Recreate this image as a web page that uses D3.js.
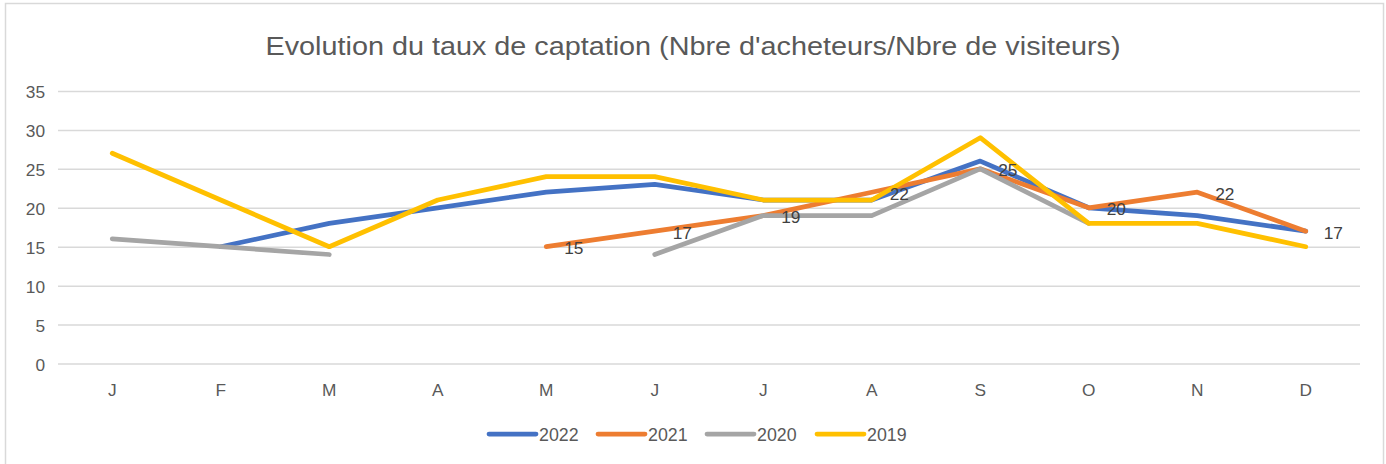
<!DOCTYPE html>
<html>
<head>
<meta charset="utf-8">
<script src="https://cdn.jsdelivr.net/npm/d3@7"></script>
<style>
  html, body { margin: 0; padding: 0; background: #fff; }
  svg { display: block; }
</style>
</head>
<body>
<svg id="chart" width="1386" height="464"></svg>
<script>
const months = ["J", "F", "M", "A", "M", "J", "J", "A", "S", "O", "N", "D"];
const yTicks = [0, 5, 10, 15, 20, 25, 30, 35];
const seriesNames = ["2022", "2021", "2020", "2019"];
const seriesColors = ["#4472C4", "#ED7D31", "#A5A5A5", "#FFC000"];
const v2022 = [null, 15, 18, 20, 22, 23, 21, 21, 26, 20, 19, 17];
const v2021 = [null, null, null, null, 15, 17, 19, 22, 25, 20, 22, 17];
const v2020 = [16, 15, 14, null, null, 14, 19, 19, 25, 18, null, null];
const v2019 = [27, 21, 15, 21, 24, 24, 21, 21, 29, 18, 18, 15];
const labeledSeries = "2021";
const title = "Evolution du taux de captation (Nbre d'acheteurs/Nbre de visiteurs)";

const seriesValues = [v2022, v2021, v2020, v2019];
const series = seriesNames.map((name, i) => ({
  name, color: seriesColors[i],
  values: seriesValues[i].map((v, j) => ({ idx: j, v }))
}));

const svg = d3.select("#chart");
const W = 1386, H = 464;
const font = "'Liberation Sans', Arial, sans-serif";
const textColor = "#595959";
const fs = 17.3;

// chart border
svg.append("rect").attr("x", 5.5).attr("y", 3.5).attr("width", 1378).attr("height", 470)
  .attr("fill", "#fff").attr("stroke", "#D9D9D9").attr("stroke-width", 1.5);

const plot = { left: 58, right: 1360, top: 91, bottom: 363.5 };

const x = d3.scaleBand().domain(d3.range(months.length)).range([plot.left, plot.right]).padding(0);
const y = d3.scaleLinear().domain([0, 35]).range([plot.bottom, plot.top]);

// title
const t = svg.append("text")
  .attr("x", W / 2).attr("y", 54.5)
  .attr("text-anchor", "middle")
  .attr("font-family", font).attr("font-size", 26)
  .attr("fill", textColor)
  .text(title);
t.attr("textLength", 855).attr("lengthAdjust", "spacingAndGlyphs");

// gridlines
const yAxis = d3.axisLeft(y).tickValues(yTicks).tickSize(-(plot.right - plot.left)).tickPadding(13);
const gy = svg.append("g").attr("transform", `translate(${plot.left},0)`).call(yAxis);
gy.select(".domain").remove();
gy.selectAll(".tick line").attr("stroke", "#D9D9D9").attr("stroke-width", 1.5);
gy.selectAll(".tick text").attr("font-family", font).attr("font-size", fs)
  .attr("fill", textColor).attr("dy", "0.40em");

// x axis labels
const xAxis = d3.axisBottom(x).tickFormat(i => months[i]).tickSize(0).tickPadding(20);
const gx = svg.append("g").attr("transform", `translate(0,${plot.bottom})`).call(xAxis);
gx.select(".domain").remove();
gx.selectAll(".tick text").attr("font-family", font).attr("font-size", fs)
  .attr("fill", textColor);

// lines
const line = d3.line()
  .defined(d => d.v !== null)
  .x(d => x(d.idx) + x.bandwidth() / 2)
  .y(d => y(d.v));

svg.append("g").selectAll("path").data(series).join("path")
  .attr("d", d => line(d.values))
  .attr("fill", "none")
  .attr("stroke", d => d.color)
  .attr("stroke-width", 4.75)
  .attr("stroke-linejoin", "round")
  .attr("stroke-linecap", "round");

// data labels for 2021
const lab = series.find(s => s.name === labeledSeries);
svg.append("g").selectAll("text").data(lab.values.filter(d => d.v !== null)).join("text")
  .attr("x", d => x(d.idx) + x.bandwidth() / 2 + 18)
  .attr("y", d => y(d.v) + 7.5)
  .attr("font-family", font).attr("font-size", fs)
  .attr("fill", "#404040")
  .text(d => d.v);

// legend
const legendX = [489, 598, 707, 817];
const lg = svg.append("g");
series.forEach((s, i) => {
  const g = lg.append("g").attr("transform", `translate(${legendX[i]},434)`);
  g.append("line").attr("x1", 0).attr("x2", 47).attr("y1", 0).attr("y2", 0)
    .attr("stroke", s.color).attr("stroke-width", 4.75).attr("stroke-linecap", "round");
  g.append("text").attr("x", 50).attr("y", 6.5)
    .attr("font-family", font).attr("font-size", 17.8).attr("fill", textColor)
    .text(s.name);
});
</script>
</body>
</html>
